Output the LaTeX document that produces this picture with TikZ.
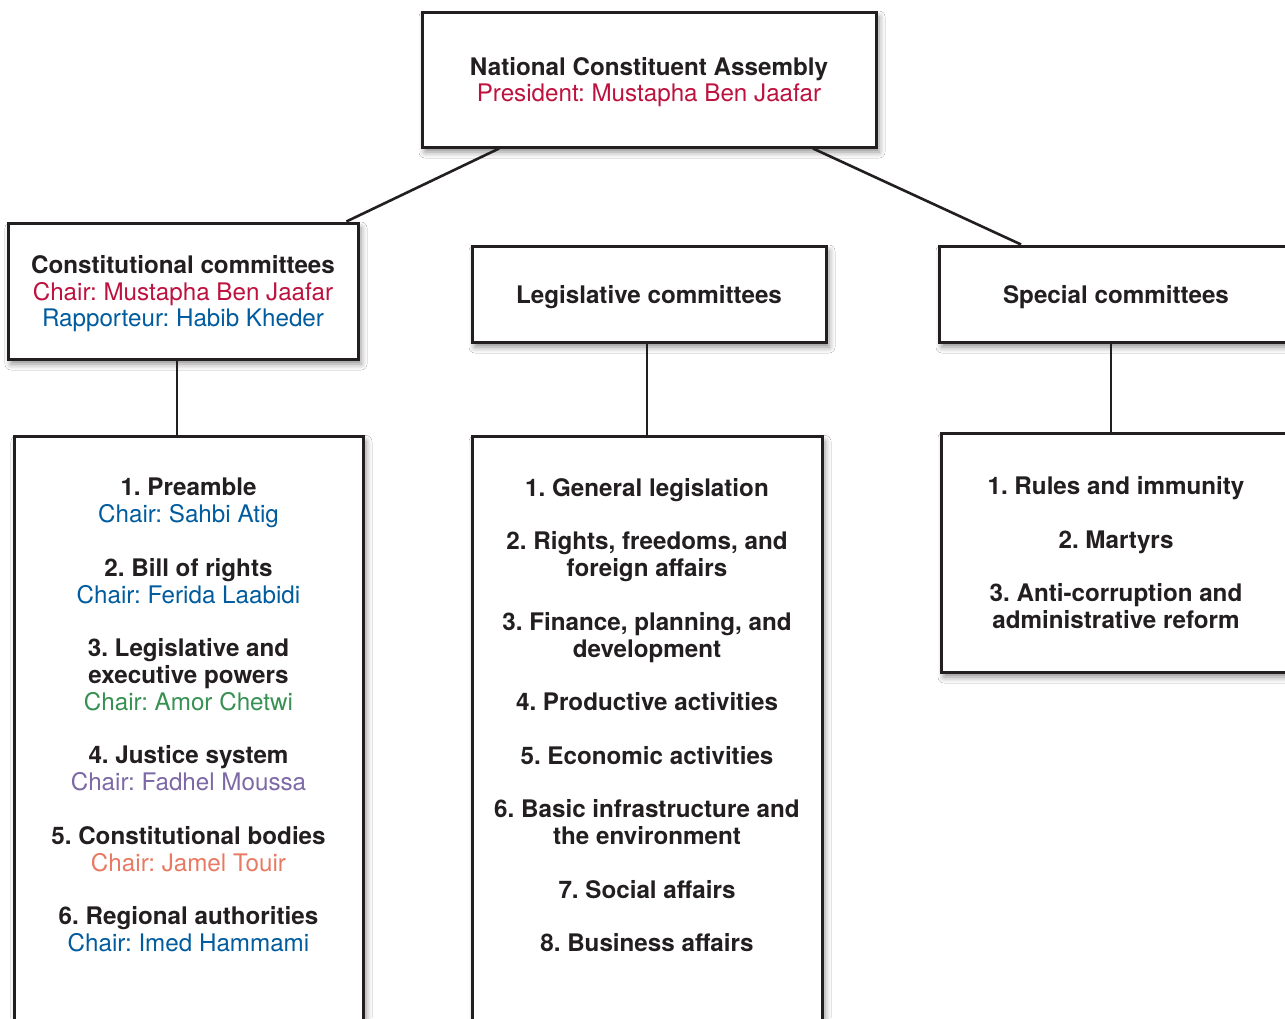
\documentclass[tikz,border=0pt]{standalone}
\usepackage{fontspec}
\setmainfont{TeX Gyre Heros}
\usetikzlibrary{calc}
\usetikzlibrary{shadows.blur}
\frenchspacing

\definecolor{ink}{RGB}{35,31,32}
\definecolor{chairred}{RGB}{190,18,62}
\definecolor{chairblue}{RGB}{0,92,158}
\definecolor{chairgreen}{RGB}{56,145,82}
\definecolor{chairpurple}{RGB}{125,105,165}
\definecolor{chairsalmon}{RGB}{232,122,100}

\tikzset{
  orgbox/.style={draw=ink, line width=3pt, fill=white, inner sep=0pt,
    align=center, text=ink, text depth=0pt,
    font=\fontsize{24.2}{26.8}\selectfont,
    blur shadow={shadow xshift=3pt, shadow yshift=-5pt,
      shadow blur radius=6pt, shadow opacity=45}},
  itemtext/.style={inner sep=0pt, align=center, text=ink, anchor=north,
    font=\fontsize{24.2}{26.8}\selectfont},
  link/.style={draw=ink, line width=2.6pt},
}

\begin{document}
\begin{tikzpicture}[x=1pt, y=-1pt]
\path[use as bounding box, fill=white] (0,0) rectangle (1285,1018);

% boxes
\node[orgbox, minimum width=454, minimum height=135] (assembly) at (649,79.5)
  {\textbf{National Constituent Assembly}\\
   \textcolor{chairred}{President: Mustapha Ben Jaafar}};

\node[orgbox, minimum width=350, minimum height=136] (constitutional) at (183,291)
  {\textbf{Constitutional committees}\\
   \textcolor{chairred}{Chair: Mustapha Ben Jaafar}\\
   \textcolor{chairblue}{Rapporteur: Habib Kheder}};
\node[orgbox, minimum width=354, minimum height=96] (legislative) at (649,294)
  {\textbf{Legislative committees}};
\node[orgbox, minimum width=354, minimum height=96] (special) at (1116,294)
  {\textbf{Special committees}};

\node[orgbox, anchor=north, minimum width=349, minimum height=700] (constList) at (188.5,435) {};
\node[orgbox, anchor=north, minimum width=350, minimum height=700] (legList) at (647,435) {};
\node[orgbox, minimum width=350, minimum height=239] (specList) at (1116,552.5)
  {\textbf{1. Rules and immunity}\\[26.8pt]
   \textbf{2. Martyrs}\\[26.8pt]
   \textbf{3. Anti-corruption and}\\
   \textbf{administrative reform}};

% lists
\node[itemtext] (constItems) at (188.5,478)
  {\textbf{1. Preamble}\\
   \textcolor{chairblue}{Chair: Sahbi Atig}\\[26.8pt]
   \textbf{2. Bill of rights}\\
   \textcolor{chairblue}{Chair: Ferida Laabidi}\\[26.8pt]
   \textbf{3. Legislative and}\\
   \textbf{executive powers}\\
   \textcolor{chairgreen}{Chair: Amor Chetwi}\\[26.8pt]
   \textbf{4. Justice system}\\
   \textcolor{chairpurple}{Chair: Fadhel Moussa}\\[26.8pt]
   \textbf{5. Constitutional bodies}\\
   \textcolor{chairsalmon}{Chair: Jamel Touir}\\[26.8pt]
   \textbf{6. Regional authorities}\\
   \textcolor{chairblue}{Chair: Imed Hammami}};

\node[itemtext] (legItems) at (647,478)
  {\textbf{1. General legislation}\\[26.8pt]
   \textbf{2. Rights, freedoms, and}\\
   \textbf{foreign affairs}\\[26.8pt]
   \textbf{3. Finance, planning, and}\\
   \textbf{development}\\[26.8pt]
   \textbf{4. Productive activities}\\[26.8pt]
   \textbf{5. Economic activities}\\[26.8pt]
   \textbf{6. Basic infrastructure and}\\
   \textbf{the environment}\\[26.8pt]
   \textbf{7. Social affairs}\\[26.8pt]
   \textbf{8. Business affairs}};

% connectors
\draw[link] ($(assembly.south west)!0.172!(assembly.south east)$)
  -- ($(constitutional.north west)!0.963!(constitutional.north east)$);
\draw[link] ($(assembly.south west)!0.859!(assembly.south east)$)
  -- ($(special.north west)!0.234!(special.north east)$);
\draw[link] ([xshift=-6pt]constitutional.south) -- ([xshift=-6pt]constitutional.south |- constList.north);
\draw[link] (legislative.south -| legList.north) -- (legList.north);
\draw[link] ([xshift=-5pt]special.south) -- ([xshift=-5pt]special.south |- specList.north);
\end{tikzpicture}
\end{document}
